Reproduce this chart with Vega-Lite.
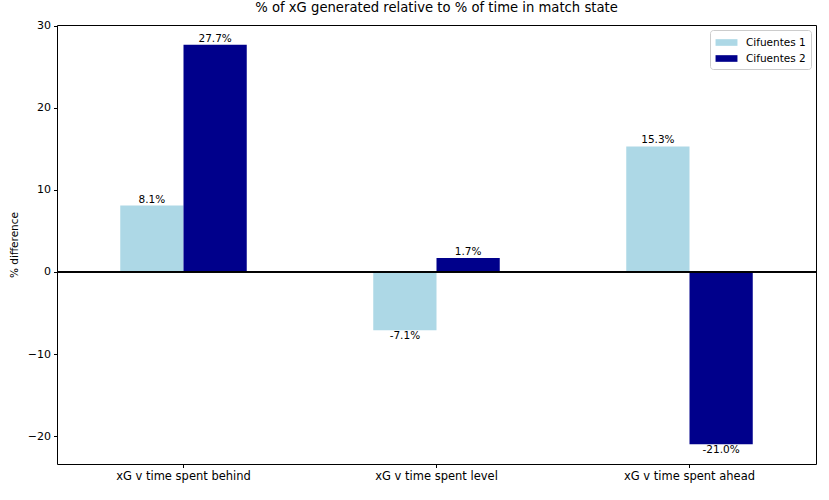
{
  "$schema": "https://vega.github.io/schema/vega-lite/v6.json",
  "autosize": "none",
  "width": 759,
  "height": 439,
  "padding": {"left": 57, "top": 25, "right": 13, "bottom": 36},
  "background": "white",
  "title": {"text": "% of xG generated relative to % of time in match state", "fontSize": 13.2, "font": "DejaVu Sans", "fontWeight": "normal", "color": "black", "offset": 5, "anchor": "middle", "frame": "group"},
  "config": {
    "font": "DejaVu Sans",
    "view": {"stroke": "black", "strokeWidth": 1},
    "axis": {"domainColor": "black", "tickColor": "black", "labelColor": "black", "titleColor": "black", "grid": false, "labelFont": "DejaVu Sans", "titleFont": "DejaVu Sans", "titleFontWeight": "normal", "tickSize": 3.5, "labelPadding": 3}
  },
  "data": {"values": [
    {"state": "xG v time spent behind", "series": "Cifuentes 1", "value": 8.1},
    {"state": "xG v time spent behind", "series": "Cifuentes 2", "value": 27.7},
    {"state": "xG v time spent level", "series": "Cifuentes 1", "value": -7.1},
    {"state": "xG v time spent level", "series": "Cifuentes 2", "value": 1.7},
    {"state": "xG v time spent ahead", "series": "Cifuentes 1", "value": 15.3},
    {"state": "xG v time spent ahead", "series": "Cifuentes 2", "value": -21.0}
  ]},
  "transform": [{"calculate": "replace(format(datum.value, '.1f'), '\u2212', '-') + '%'", "as": "label"}],
  "encoding": {
    "x": {"field": "state", "type": "nominal", "sort": null,
      "scale": {"paddingInner": 0, "paddingOuter": 0},
      "axis": {"title": null, "labelAngle": 0, "labelFontSize": 11.5, "domain": false}},
    "xOffset": {"field": "series", "type": "nominal", "scale": {"paddingInner": 0, "paddingOuter": 1}},
    "y": {"field": "value", "type": "quantitative",
      "scale": {"domain": [-23.4, 30.1], "nice": false, "zero": false},
      "axis": {"title": "% difference", "values": [-20, -10, 0, 10, 20, 30], "labelFontSize": 11, "titleFontSize": 10.5, "labelExpr": "replace(datum.label, '-', '\u2212')", "domain": false, "titlePadding": 8}}
  },
  "layer": [
    {
      "mark": {"type": "bar"},
      "encoding": {
        "color": {"field": "series", "type": "nominal",
          "scale": {"domain": ["Cifuentes 1", "Cifuentes 2"], "range": ["#ADD8E6", "#00008B"]},
          "legend": {"title": null, "orient": "top-right", "offset": 5, "strokeColor": "#cccccc", "fillColor": "white", "cornerRadius": 3, "padding": 5, "labelFontSize": 10.5, "labelColor": "black", "labelFont": "DejaVu Sans", "symbolType": "M-1.55,-0.47H1.55V0.47H-1.55Z", "symbolSize": 200, "symbolStrokeWidth": 0, "symbolOffset": 4, "labelOffset": 12, "rowPadding": 3}
        }
      }
    },
    {
      "mark": {"type": "rule", "color": "black", "strokeWidth": 1},
      "encoding": {"y": {"datum": 0}, "x": null, "xOffset": null}
    },
    {
      "transform": [{"filter": "datum.value >= 0"}],
      "mark": {"type": "text", "baseline": "bottom", "dy": -1, "fontSize": 10.5, "color": "black"},
      "encoding": {"text": {"field": "label"}}
    },
    {
      "transform": [{"filter": "datum.value < 0"}],
      "mark": {"type": "text", "baseline": "top", "dy": 1, "fontSize": 10.5, "color": "black"},
      "encoding": {"text": {"field": "label"}}
    }
  ]
}
